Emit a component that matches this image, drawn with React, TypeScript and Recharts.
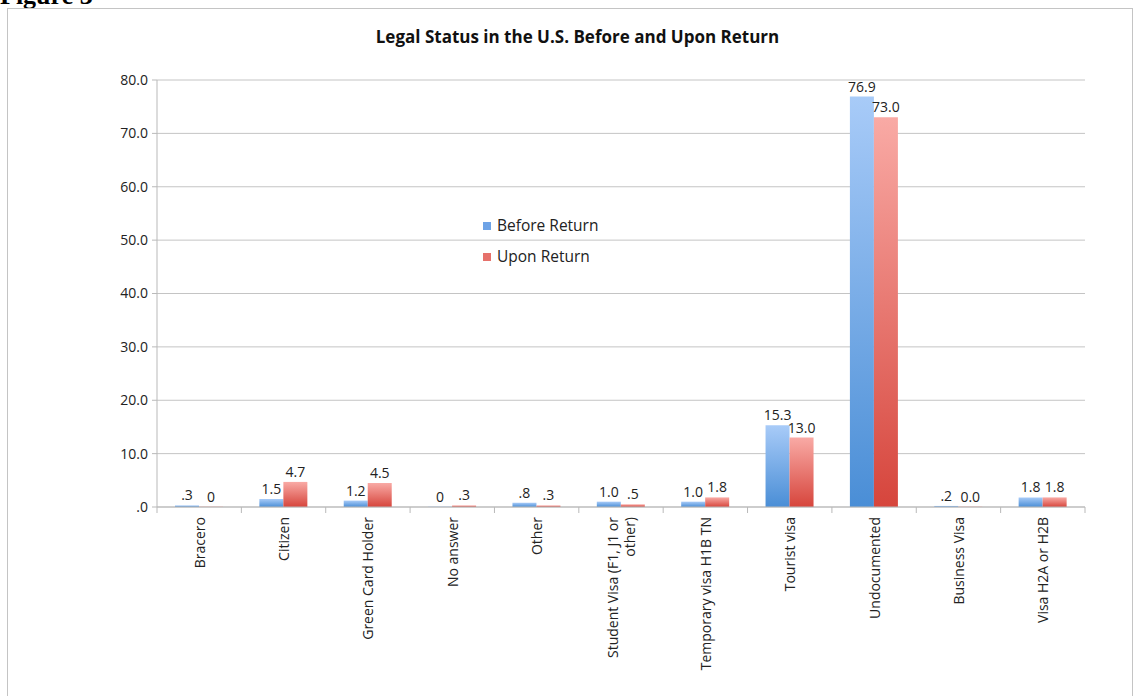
import React from "react";
import { BarChart, Bar, XAxis, YAxis, CartesianGrid, Legend, LabelList } from "recharts";

const categories = [
  "Bracero",
  "Citizen",
  "Green Card Holder",
  "No answer",
  "Other",
  "Student Visa (F1, J1 or other)",
  "Temporary visa H1B TN",
  "Tourist visa",
  "Undocumented",
  "Business Visa",
  "Visa H2A or H2B",
];

// how the category names wrap under the axis
const tickLines = [
  ["Bracero"],
  ["Citizen"],
  ["Green Card Holder"],
  ["No answer"],
  ["Other"],
  ["Student Visa (F1, J1 or", "other)"],
  ["Temporary visa H1B TN"],
  ["Tourist visa"],
  ["Undocumented"],
  ["Business Visa"],
  ["Visa H2A or H2B"],
];

const beforeReturn = [0.3, 1.5, 1.2, 0, 0.8, 1.0, 1.0, 15.3, 76.9, 0.2, 1.8];
const uponReturn = [0, 4.7, 4.5, 0.3, 0.3, 0.5, 1.8, 13.0, 73.0, 0.0, 1.8];

const beforeLabels = [".3", "1.5", "1.2", "0", ".8", "1.0", "1.0", "15.3", "76.9", ".2", "1.8"];
const uponLabels = ["0", "4.7", "4.5", ".3", ".3", ".5", "1.8", "13.0", "73.0", "0.0", "1.8"];

const yTicks = [0, 10, 20, 30, 40, 50, 60, 70, 80];

const W = 1140;
const H = 696;
const PLOT_LEFT = 157;
const PLOT_RIGHT = 1085;
const PLOT_TOP = 80;
const PLOT_BOTTOM = 507;
const BAND = (PLOT_RIGHT - PLOT_LEFT) / categories.length;
const FONT = "'Open Sans', sans-serif";
const AXIS = "#b9b9b9";

const data = categories.map((name, i) => ({
  name,
  before: beforeReturn[i],
  upon: uponReturn[i],
  beforeLabel: beforeLabels[i],
  uponLabel: uponLabels[i],
}));

const CategoryTick = (props: any) => {
  const { x, payload, index } = props;
  const lines = tickLines[index] ?? [String(payload.value)];
  const lh = 17;
  return (
    <g transform={`translate(${x},${PLOT_BOTTOM})`}>
      <line x1={-BAND / 2} x2={-BAND / 2} y1={0} y2={6} stroke={AXIS} />
      {index === categories.length - 1 && (
        <line x1={BAND / 2} x2={BAND / 2} y1={0} y2={6} stroke={AXIS} />
      )}
      {lines.map((t, i) => (
        <text
          key={i}
          transform="rotate(-90)"
          x={-10}
          y={(i - (lines.length - 1) / 2) * lh}
          textAnchor="end"
          dominantBaseline="central"
          fontSize={14}
          fontFamily={FONT}
          fill="#222"
        >
          {t}
        </text>
      ))}
    </g>
  );
};

const LegendBox = () => (
  <div style={{ fontFamily: FONT, fontSize: 15.5, color: "#222", lineHeight: "31px" }}>
    <div style={{ display: "flex", alignItems: "center" }}>
      <span style={{ width: 8, height: 8, background: "#6ea3e6", marginRight: 6, display: "inline-block" }} />
      Before Return
    </div>
    <div style={{ display: "flex", alignItems: "center" }}>
      <span style={{ width: 8, height: 8, background: "#e6716b", marginRight: 6, display: "inline-block" }} />
      Upon Return
    </div>
  </div>
);

const labelStyle = { fill: "#222", fontSize: 14, fontFamily: FONT };

export default function App() {
  return (
    <div style={{ position: "absolute", left: 0, top: 0, width: W, height: H, overflow: "hidden", background: "#fff" }}>
      <div
        style={{
          position: "absolute",
          left: 0,
          top: -19,
          fontFamily: "'Liberation Serif', serif",
          fontWeight: 700,
          fontSize: 26,
          color: "#000",
        }}
      >
        Figure 3
      </div>
      <div
        style={{
          position: "absolute",
          left: 7,
          top: 8,
          width: 1126,
          height: 720,
          border: "1.5px solid #c4c4c4",
          boxSizing: "border-box",
        }}
      />
      <div
        style={{
          position: "absolute",
          left: 0,
          top: 25,
          width: 1155,
          textAlign: "center",
          fontFamily: FONT,
          fontWeight: 700,
          fontSize: 17,
          color: "#111",
        }}
      >
        Legal Status in the U.S. Before and Upon Return
      </div>
      <div style={{ position: "absolute", left: 0, top: 0 }}>
        <BarChart
          width={W}
          height={H}
          data={data}
          barGap={0}
          barSize={24}
          margin={{ top: PLOT_TOP, right: W - PLOT_RIGHT, bottom: 0, left: 0 }}
        >
          <defs>
            <linearGradient id="gBlue" x1="0" y1="0" x2="0" y2="1">
              <stop offset="0%" stopColor="#a8cbf8" />
              <stop offset="100%" stopColor="#4a8ed6" />
            </linearGradient>
            <linearGradient id="gRed" x1="0" y1="0" x2="0" y2="1">
              <stop offset="0%" stopColor="#f9aaa5" />
              <stop offset="100%" stopColor="#d6453c" />
            </linearGradient>
          </defs>
          <CartesianGrid vertical={false} stroke="#c4c4c4" />
          <XAxis
            dataKey="name"
            interval={0}
            tick={<CategoryTick />}
            tickLine={false}
            axisLine={{ stroke: AXIS }}
            height={H - PLOT_BOTTOM}
          />
          <YAxis
            width={PLOT_LEFT}
            domain={[0, 80]}
            ticks={yTicks}
            tickFormatter={(v: number) => (v === 0 ? ".0" : v.toFixed(1))}
            tick={{ fill: "#222", fontSize: 14, fontFamily: FONT }}
            tickLine={{ stroke: AXIS }}
            tickSize={5}
            tickMargin={4}
            axisLine={{ stroke: AXIS }}
          />
          <Legend
            layout="vertical"
            align="center"
            verticalAlign="middle"
            content={<LegendBox />}
            wrapperStyle={{ position: "absolute", left: 483, top: 210, width: 170, bottom: "auto", right: "auto" }}
          />
          <Bar dataKey="before" name="Before Return" fill="url(#gBlue)" minPointSize={0.4} isAnimationActive={false}>
            <LabelList dataKey="beforeLabel" position="top" offset={5} style={labelStyle} />
          </Bar>
          <Bar dataKey="upon" name="Upon Return" fill="url(#gRed)" minPointSize={0.4} isAnimationActive={false}>
            <LabelList dataKey="uponLabel" position="top" offset={5} style={labelStyle} />
          </Bar>
        </BarChart>
      </div>
    </div>
  );
}
